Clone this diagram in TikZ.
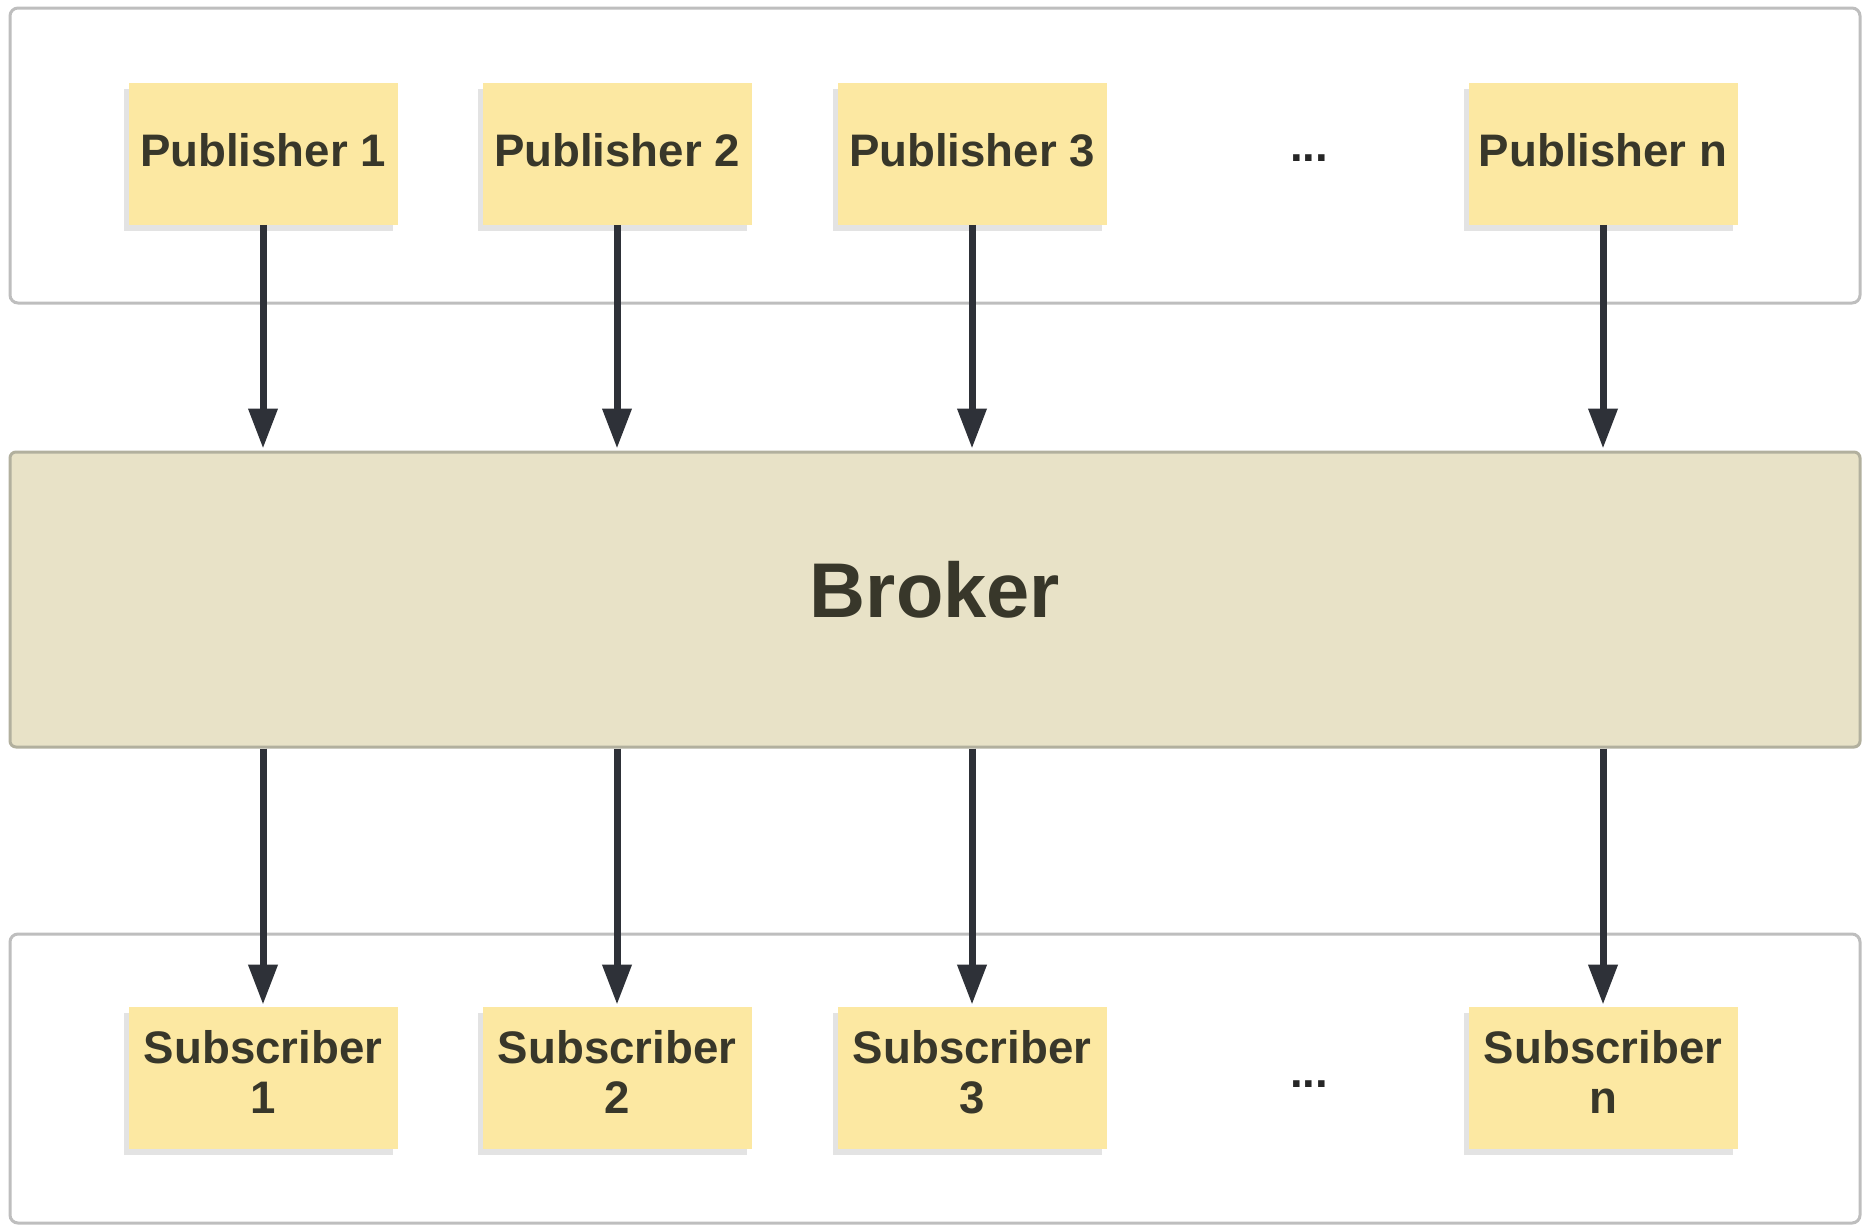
\documentclass[tikz,border=0pt]{standalone}
\usepackage{fontspec}
\setmainfont{Liberation Sans}
\usetikzlibrary{arrows.meta,shadows}
\definecolor{contborder}{HTML}{BEBEBE}
\definecolor{notefill}{HTML}{FCE8A2}
\definecolor{brokerfill}{HTML}{E8E2C7}
\definecolor{brokerborder}{HTML}{B2B09E}
\definecolor{arrowcol}{HTML}{2E3138}
\definecolor{textcol}{HTML}{38372A}
\begin{document}
\begin{tikzpicture}[x=0.5pt,y=-0.5pt,
  container/.style={draw=contborder,line width=1.5pt,fill=white,rounded corners=4pt},
  note/.style={fill=notefill,minimum width=134.5pt,minimum height=71pt,inner sep=0pt,
    align=center,font=\bfseries\fontsize{22.8}{25}\selectfont,text=textcol,
    drop shadow={shadow xshift=-2.5pt,shadow yshift=-3pt,fill=black!50,opacity=0.22}},
  pubnote/.style={note,text depth=4pt},
  subnote/.style={note,text depth=6pt},
  dots/.style={font=\bfseries\fontsize{22.8}{25}\selectfont,text=black!85},
  arr/.style={draw=arrowcol,line width=3.5pt,-{Triangle[width=14pt,length=20pt]},shorten >=1pt},
]
\useasboundingbox (0,0) rectangle (1866,1227);
% containers
\draw[container] (10,8) rectangle (1860,303);
\draw[container] (10,934) rectangle (1860,1223);
\node[draw=brokerborder,line width=1.5pt,fill=brokerfill,rounded corners=3pt,
  minimum width=925pt,minimum height=147.5pt,inner sep=0pt,text depth=10pt,
  font=\bfseries\fontsize{38.8}{42}\selectfont,text=textcol] (broker) at (935,599.5) {Broker};
% publishers
\node[pubnote] (p1) at (263,153.5) {Publisher 1};
\node[pubnote] (p2) at (617,153.5) {Publisher 2};
\node[pubnote] (p3) at (972,153.5) {Publisher 3};
\node[pubnote] (pn) at (1603,153.5) {Publisher n};
\node[dots] (pd) at (1309,158) {...};
% subscribers
\node[subnote] (s1) at (263,1078) {Subscriber\\1};
\node[subnote] (s2) at (617,1078) {Subscriber\\2};
\node[subnote] (s3) at (972,1078) {Subscriber\\3};
\node[subnote] (sn) at (1603,1078) {Subscriber\\n};
\node[dots] (sd) at (1309,1084) {...};
% arrows
\foreach \n in {p1,p2,p3,pn}{
  \draw[arr] (\n.south) -- (\n.south |- broker.north);
}
\foreach \n in {s1,s2,s3,sn}{
  \draw[arr] (\n.north |- broker.south) -- (\n.north);
}
\end{tikzpicture}
\end{document}
